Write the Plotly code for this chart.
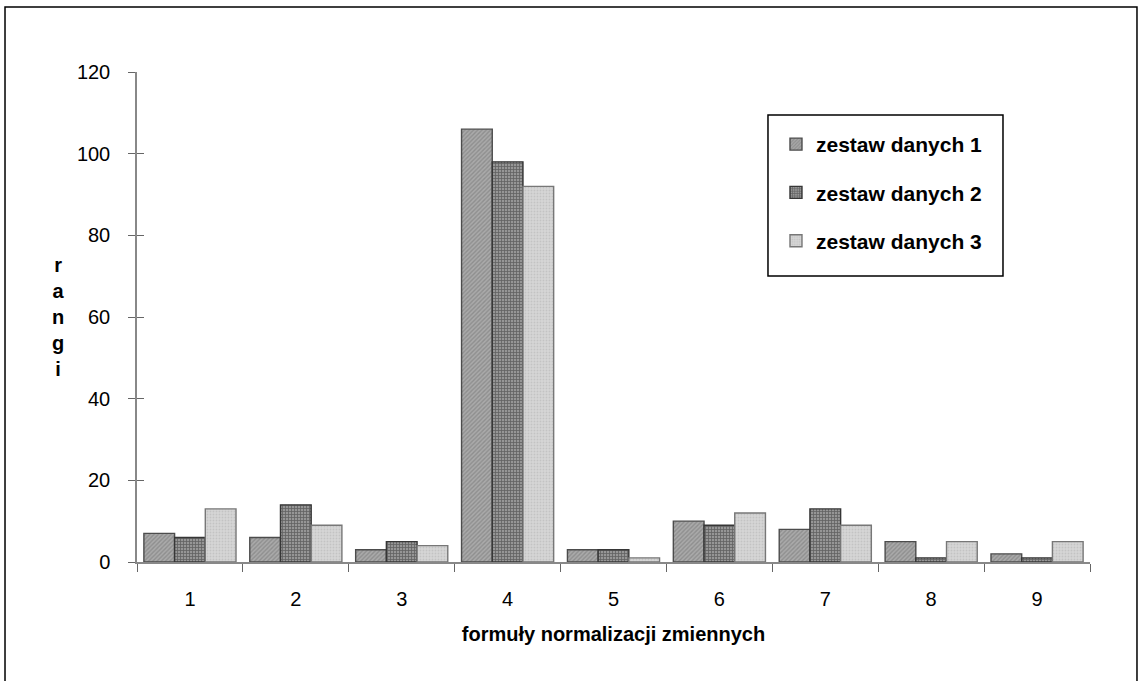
import plotly.graph_objects as go

# Normalisation formulas (x categories)
categories = ["1", "2", "3", "4", "5", "6", "7", "8", "9"]

# Ranks obtained for each data set
zestaw_1 = [7, 6, 3, 106, 3, 10, 8, 5, 2]
zestaw_2 = [6, 14, 5, 98, 3, 9, 13, 1, 1]
zestaw_3 = [13, 9, 4, 92, 1, 12, 9, 5, 5]

series_names = ["zestaw danych 1", "zestaw danych 2", "zestaw danych 3"]
y_ticks = [0, 20, 40, 60, 80, 100, 120]

FONT = "Arial, Liberation Sans, sans-serif"

styles = [
    dict(shape="/", size=3, solidity=0.45, fgcolor="#727272", bgcolor="#aaaaaa", edge="#4c4c4c"),
    dict(shape="+", size=3, solidity=0.45, fgcolor="#2c2c2c", bgcolor="#969696", edge="#363636"),
    dict(shape=".", size=3, solidity=0.3, fgcolor="#b0b0b0", bgcolor="#d6d6d6", edge="#777777"),
]

fig = go.Figure()
for name, vals, st in zip(series_names, [zestaw_1, zestaw_2, zestaw_3], styles):
    fig.add_trace(go.Bar(
        x=categories, y=vals, name=name, legendgroup=name,
        marker=dict(
            color=st["bgcolor"],
            line=dict(color=st["edge"], width=1.4),
            pattern=dict(shape=st["shape"], size=st["size"], solidity=st["solidity"],
                         fgcolor=st["fgcolor"], bgcolor=st["bgcolor"], fillmode="overlay"),
        ),
    ))

# helper trace so the overlaid axis (inner half of y ticks) is drawn
fig.add_trace(go.Scatter(x=[], y=[], yaxis="y2", showlegend=False, hoverinfo="skip"))

fig.update_layout(
    width=1145, height=681,
    margin=dict(l=137, r=55, t=72, b=119),
    paper_bgcolor="white", plot_bgcolor="white",
    barmode="group", bargap=0.13, bargroupgap=0,
    font=dict(family=FONT, size=20, color="black"),
    showlegend=True,
    legend=dict(
        x=0.6705, y=0.894, xanchor="left", yanchor="top",
        borderwidth=0, bgcolor="rgba(255,255,255,0)",
        font=dict(family=FONT, size=21, color="black", weight="bold"),
        traceorder="grouped", tracegroupgap=18,
    ),
    xaxis=dict(
        type="category", range=[-0.5, 8.5],
        showline=True, linecolor="#888888", linewidth=1.5,
        ticks="outside", tickson="boundaries", ticklen=8, tickcolor="#666666", tickwidth=1.2,
        ticklabelstandoff=18,
        tickfont=dict(size=20),
        showgrid=False, zeroline=False,
        title=dict(text="formuły normalizacji zmiennych", standoff=18,
                   font=dict(size=20, weight="bold")),
    ),
    yaxis=dict(
        range=[0, 120], tickvals=y_ticks,
        showline=True, linecolor="#888888", linewidth=1.5,
        ticks="outside", ticklen=7, tickcolor="#666666", tickwidth=1.2,
        ticklabelstandoff=14,
        tickfont=dict(size=20),
        showgrid=False, zeroline=False,
    ),
    yaxis2=dict(
        overlaying="y", range=[0, 120], tickvals=y_ticks,
        ticks="inside", ticklen=7, tickcolor="#666666", tickwidth=1.2,
        showticklabels=False, showline=False, showgrid=False, zeroline=False,
        side="left",
    ),
    annotations=[dict(
        text="r<br>a<br>n<br>g<br>i", xref="paper", yref="paper",
        x=-0.082, y=0.5, xanchor="center", yanchor="middle", showarrow=False,
        font=dict(family=FONT, size=20, color="black", weight="bold"),
    )],
    shapes=[
        # outer frame of the figure
        dict(type="rect", xref="paper", yref="paper",
             x0=-0.1385, x1=1.0493, y0=-0.3, y1=1.1327,
             line=dict(color="black", width=1.5), fillcolor="rgba(0,0,0,0)", layer="below"),
        # legend frame
        dict(type="rect", xref="paper", yref="paper",
             x0=0.6621, x1=0.9087, y0=0.5837, y1=0.9122,
             line=dict(color="black", width=1.5), fillcolor="white", layer="below"),
    ],
)

fig.write_html("out.html")
